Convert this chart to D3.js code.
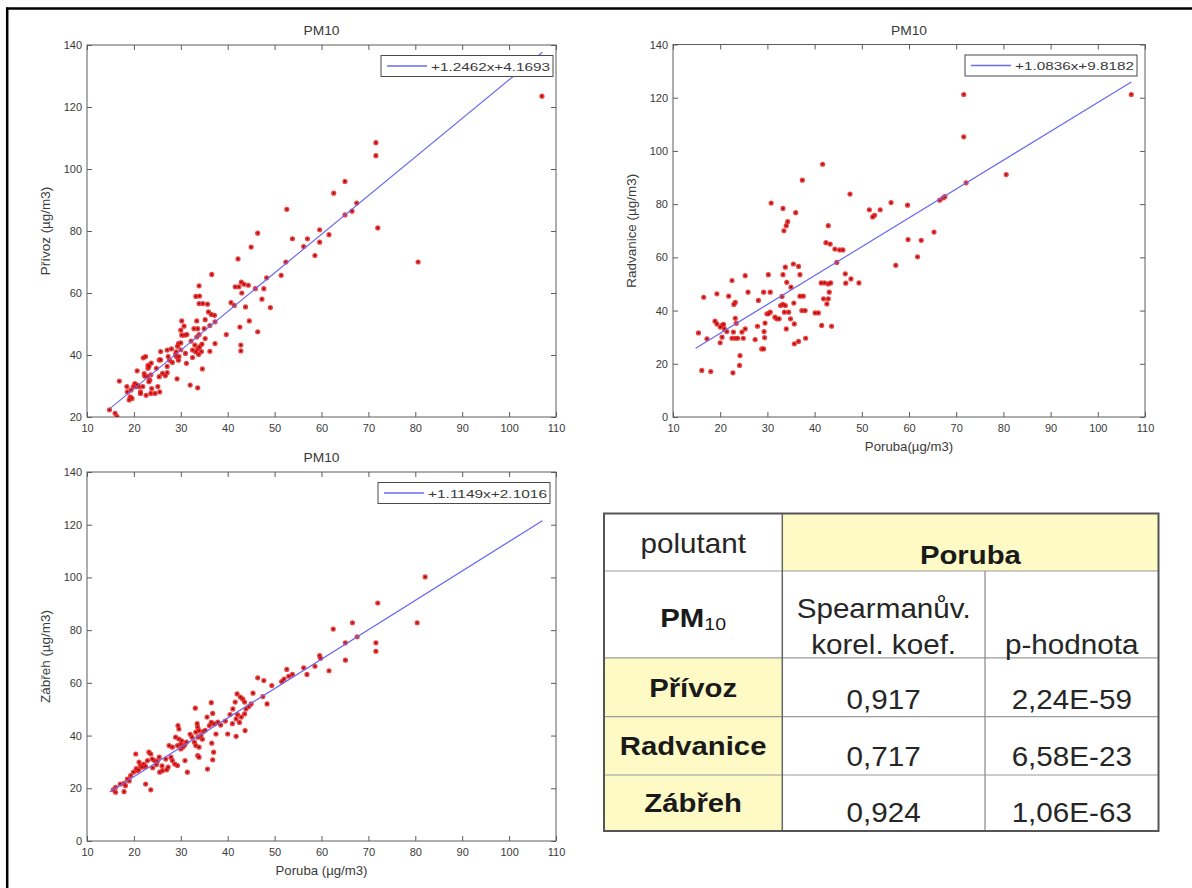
<!DOCTYPE html>
<html>
<head>
<meta charset="utf-8">
<script src="https://cdn.jsdelivr.net/npm/d3@7"></script>
<style>
  body { margin: 0; background: #fff; }
  svg { display: block; font-family: "Liberation Sans", Arial, sans-serif; }
</style>
</head>
<body>
<svg id="chart" width="1192" height="888"></svg>
<script>
// ---- data -------------------------------------------------------------
const xTicks = [10, 20, 30, 40, 50, 60, 70, 80, 90, 100, 110];
const privozYTicks = [20, 40, 60, 80, 100, 120, 140];
const fullYTicks = [0, 20, 40, 60, 80, 100, 120, 140];

// daily PM10 pairs: [Poruba, station] in µg/m3
const privozPts = [
  [107,123.5],[71.6,108.5],[71.6,104.3],[72,81],[80.6,70],[65,96],[62.6,92.2],[65,85.2],[66.5,86.4],[67.5,89],
  [52.6,87],[59.6,80.4],[59.6,76.4],[61.6,78.8],[58.6,72.1],[57,77.5],[56.2,75],[53.8,77.5],[52.4,70],[51.4,65.7],
  [48.3,64.9],[47.7,61.4],[49.1,55.3],[47.3,58],[46.4,47.5],[46.4,79.3],[45,74.8],[42.2,71],[44.4,62.5],[44.6,51],
  [43.8,55.5],[42.8,43.2],[42.8,41.3],[42.6,49],[42.4,62],[41.6,62],[43,60],[41.4,56],[40.7,56.9],[39.7,46.6],
  [45.9,61.4],[36.6,66],[36.5,53.1],[35.9,53.9],[35.2,51.4],[37.3,50.7],[37.2,52.8],[36.2,41.2],[37.3,43.7],[35.2,45.3],
  [34.6,35.5],[33.6,29.4],[32,30.3],[33.9,62.3],[33.2,58.9],[33.9,56.6],[34.7,56.6],[35.7,56.4],[33.4,51],[33.6,48.5],
  [32.8,48.5],[33.4,45.8],[33,43.2],[33.6,42],[32.5,41.6],[34,42.6],[32.5,39.2],[31.2,37.3],[30.2,51],[30,48],
  [30.8,46.4],[30.2,46.4],[29.5,43.7],[29,41],[29.1,39.4],[29.5,38.3],[29.2,32.3],[28,42],[27.1,41.6],[27.6,38.3],
  [27.1,34.3],[26.7,33.3],[25.4,38.4],[24.8,35.7],[24.5,27.6],[23.8,29.2],[23.4,31.9],[23,35.7],[23,36.7],[22,39.1],
  [22.2,34],[22.3,33.2],[22.6,27],[21.4,28.1],[20.7,34.9],[20.3,30.3],[19.9,29.8],[19.4,28.7],[19.2,26.5],[19.6,26],
  [19,25.5],[18.5,29.8],[16.9,31.6],[18.6,28.1],[14.8,22.3],[16,21.2],[16.4,20.1],
  [34,59],[33.9,46.6],[34.4,41.1],[30.7,49.3],[31.3,46.6],[30,43.9],[29.3,42.8],[30,41.7],[29.6,39.5],[28.9,40.1],
  [28.2,37.6],[27.3,39.5],[27.1,36.3],[25.7,38.4],[25.7,41.1],[25.4,33],[26.1,34.1],[23.7,37.4],[23.2,36.3],[23.6,33.6],
  [22.5,39.5],[23.2,31.4],[22.9,33],[21.9,29.8],[21.1,29.8],[21.4,27.6],[20.2,30.8],[20.4,29.8],[20.7,30.3],[23.6,27.6],
  [25.5,28.1],[25.1,29.8],[42.9,63.5],[43.5,62.8],[33.2,41],[34.5,43.5],[33.8,40.2],[32.2,44.5],[35,48.5],[36.2,49.5],
  [31,40.5]
];

const radvanicePts = [
  [41.7,95],[37.4,89],[47.5,83.8],[30.8,80.4],[33.3,78.4],[36,76.8],[34.3,73.4],[34,71.9],[33.5,70],[42.9,71.9],
  [42.4,65.5],[43.3,65],[44.3,63.1],[45.3,62.8],[46,62.8],[44.7,58.1],[33.8,56.3],[35.5,57.5],[36.6,56.6],[36.9,53.5],
  [33.3,53.5],[34.1,50.6],[35,48.8],[36.9,45.4],[37.6,45.4],[33.1,45.3],[30.6,46.9],[30.2,53.5],[29.2,46.9],[28.1,43.8],
  [25.3,53.1],[25.9,46.9],[22.5,51.3],[21.8,45.4],[23.2,43.1],[22.9,42.3],[19.3,46.3],[16.5,45],[15.4,31.6],[18.9,36],
  [19.3,35],[20.4,34.4],[20.9,33.1],[21.4,32.1],[20.7,34.8],[20,33.8],[20.4,30],[20,27.9],[17.2,29.4],[23.2,37.1],
  [23.4,35.2],[22.8,31.9],[22.5,29.6],[23.2,29.6],[23.7,29.6],[24.6,31.9],[25.3,33.1],[24.9,29.6],[24.2,23.1],[24.1,19.4],
  [22.7,16.6],[18,17.1],[16.1,17.5],[27.4,29.1],[27.9,34.1],[28.8,25.6],[29.2,25.6],[29.4,29.8],[29.3,32.1],[29.5,35.3],
  [29.9,38.8],[30.6,39.4],[31.6,37.5],[32,36.9],[32.5,36.9],[30.2,38.8],[32.8,41.9],[33.3,42.3],[33.8,41.9],[33.6,39.4],
  [34,33.1],[34.5,39.4],[34.9,36.9],[35.6,42.8],[35.7,35],[35.7,27.5],[36.6,28.4],[38.1,29.6],[37.3,40],[38,40],
  [40.1,39.1],[40.8,39.1],[41.5,34.4],[43.6,34.1],[42.6,42.5],[42.9,44.4],[43.1,46.9],[42.9,50],[43.4,50.4],[41.9,44.4],
  [41.4,50.4],[42.1,50.4],[46.5,53.8],[46.6,50.3],[47.7,51.9],[49.4,50.4],
  [107.1,121.2],[71.6,121.2],[71.6,105.3],[72.1,88],[80.6,91.1],[66.5,81.5],[67.2,82.3],[67.6,82.8],[65.3,69.5],[62.6,66.4],
  [59.8,66.7],[61.8,60.2],[59.7,79.6],[57.2,57],[56.2,80.6],[51.6,77.9],[52.7,75.8],[52.3,75.2],[53.9,77.9]
];

const zabrehPts = [
  [46.4,61.9],[47.7,60.9],[49.4,59],[47.5,54.8],[48.4,52],[45.4,56.1],[43.2,53.9],[43.6,52.7],[42.7,54.6],[42,55.8],
  [41.6,52.7],[41.1,50.1],[43.9,50.1],[42.1,48],[42.9,47],[43.6,48.2],[41.8,46.3],[40,40.6],[41.8,39.7],[43.7,41.9],
  [37.9,45.1],[37.1,44.4],[36.1,43.8],[37.5,40.6],[36.6,37.1],[37,33.7],[36.8,30.8],[35.7,27.3],[35.6,47],[33.1,50.4],
  [33.6,43.2],[33.9,41.9],[33.2,41.3],[34.3,40],[33.7,39.4],[32.4,39.4],[32.9,37.5],[33.2,36.2],[33.9,35.6],[33.6,32.4],
  [33.9,31.8],[31.4,26.1],[30.9,30.5],[29.4,43.8],[29.6,42.5],[30,36.8],[29.3,36.2],[30,34.9],[30.4,35.6],[29.6,38.7],
  [28.9,39.4],[28.2,35.6],[27.5,36.2],[27.9,31.8],[28.2,30.5],[28.7,29.2],[29.3,28.6],[27.3,28],[26.8,31.1],[25.4,31.8],
  [25.5,26.1],[26.1,26.7],[24.4,30.5],[23.9,31.1],[23.2,33.7],[23.6,33],[22.9,30.5],[22.1,29.2],[21.4,28.6],[21.1,29.9],
  [20.4,33],[20.7,26.7],[19.9,26.1],[19.3,24.8],[18.6,23.5],[17.9,21.9],[17.1,21.6],[16.1,20.4],[15.6,19.4],[16.1,18.5],
  [17.9,18.7],[22.5,21.6],[23.6,19.4],[36.5,52.5],
  [21.8,28],[22.5,28.3],[24,27.8],[24.8,29],[25,30.2],[20.5,27.5],[21,27],[30.8,36.3],[31.2,37.5],[30.2,38],
  [34.6,38.6],[34.8,41.5],[35.2,42],[32,40.5],[38.5,44],[39.5,45.5],[36.5,45],[40.5,48],[41,44.5],[42.5,45],
  [44.5,51],[45,52],[26,28.5],[27,27],[19,22.8],[18.2,21],[33.5,44.5],[36.8,48.4],
  [82.1,100.2],[72,90.3],[80.4,82.8],[71.6,75.2],[71.6,72],[66.6,82.8],[62.5,80.4],[67.6,77.5],[65.1,75.2],[65.1,68.6],
  [61.6,64.6],[59.6,70.3],[59.8,69.3],[58.6,66.3],[56.9,63.2],[56.2,65.7],[53.8,63.2],[52.6,65.1],[52,61.4],[51.5,60.5],
  [53,62.5]
];

// least-squares fits (station = slope * Poruba + intercept)
const fitSlopes = [1.2462, 1.0836, 1.1149];
const fitIntercepts = [4.1693, 9.8182, 2.1016];

// Spearman correlation table
const stations = ["Přívoz", "Radvanice", "Zábřeh"];
const spearmanRho = ["0,917", "0,717", "0,924"];
const pValues = ["2,24E-59", "6,58E-23", "1,06E-63"];

// ---- drawing ----------------------------------------------------------
const svg = d3.select("#chart");
const FONT = "'Liberation Sans', Arial, sans-serif";

// text helper: anchored at (x, y), optionally widened horizontally
function stext(parent, x, y, s, o) {
  const rot = o.rotate ? ` rotate(${o.rotate})` : "";
  return parent.append("text")
    .attr("transform", `translate(${x},${y})${rot} scale(${o.sx || 1},1)`)
    .attr("text-anchor", o.anchor || "middle")
    .attr("font-family", FONT)
    .attr("font-size", o.size)
    .attr("font-weight", o.bold ? "bold" : "normal")
    .attr("fill", o.fill || "#222")
    .text(s);
}

// slide frame
svg.append("line").attr("x1", 6).attr("x2", 1192).attr("y1", 8.5).attr("y2", 8.5)
  .attr("stroke", "#000").attr("stroke-width", 2.5);
svg.append("line").attr("x1", 7.2).attr("x2", 7.2).attr("y1", 7.5).attr("y2", 888)
  .attr("stroke", "#000").attr("stroke-width", 2.5);

const defs = svg.append("defs");
const AXIS = "#5c5c5c";
const LABEL = "#3a3a3a";

// every station shares the same Poruba days, so fits span the same range
const porubaRange = d3.extent([...privozPts, ...radvanicePts, ...zabrehPts], d => d[0]);

function panel(cfg, idx) {
  const g = svg.append("g");
  const x = d3.scaleLinear().domain([10, 110]).range([cfg.l, cfg.r]);
  const y = d3.scaleLinear().domain(cfg.yDomain).range([cfg.b, cfg.t]);

  const clipId = "clip" + idx;
  defs.append("clipPath").attr("id", clipId).append("rect")
    .attr("x", cfg.l).attr("y", cfg.t).attr("width", cfg.r - cfg.l).attr("height", cfg.b - cfg.t);

  const styleAxis = sel => {
    sel.select(".domain").remove();
    sel.selectAll(".tick line").attr("stroke", AXIS);
    sel.selectAll(".tick text").attr("fill", LABEL)
      .attr("font-size", 11).attr("font-family", FONT);
  };

  g.append("g").attr("transform", `translate(0,${cfg.b})`)
    .call(d3.axisBottom(x).tickValues(xTicks).tickSize(-5).tickPadding(7).tickFormat(d3.format("d")))
    .call(styleAxis);
  g.append("g").attr("transform", `translate(0,${cfg.t})`)
    .call(d3.axisTop(x).tickValues(xTicks).tickSize(-5).tickFormat(""))
    .call(styleAxis);
  g.append("g").attr("transform", `translate(${cfg.l},0)`)
    .call(d3.axisLeft(y).tickValues(cfg.yTicks).tickSize(-5).tickPadding(5).tickFormat(d3.format("d")))
    .call(styleAxis);
  g.append("g").attr("transform", `translate(${cfg.r},0)`)
    .call(d3.axisRight(y).tickValues(cfg.yTicks).tickSize(-5).tickFormat(""))
    .call(styleAxis);

  g.append("rect").attr("x", cfg.l).attr("y", cfg.t)
    .attr("width", cfg.r - cfg.l).attr("height", cfg.b - cfg.t)
    .attr("fill", "none").attr("stroke", AXIS).attr("stroke-width", 1);

  const plot = g.append("g").attr("clip-path", `url(#${clipId})`);

  // scatter
  const dots = plot.append("g").selectAll("g").data(cfg.pts).join("g")
    .attr("transform", d => `translate(${x(d[0])},${y(d[1])})`);
  dots.append("circle").attr("r", 2.6).attr("fill", "#ee2222").attr("fill-opacity", 0.85);
  dots.append("circle").attr("r", 1.1).attr("fill", "#8a0c0c");

  // regression line
  const slope = fitSlopes[idx], icpt = fitIntercepts[idx];
  plot.append("line")
    .attr("x1", x(porubaRange[0])).attr("y1", y(slope * porubaRange[0] + icpt))
    .attr("x2", x(porubaRange[1])).attr("y2", y(slope * porubaRange[1] + icpt))
    .attr("stroke", "#6a6af0").attr("stroke-width", 1.2);

  // legend
  const lw = 172, lh = 21;
  const lx = cfg.legendRight - lw, ly = cfg.t + 10.5;
  g.append("rect").attr("x", lx).attr("y", ly).attr("width", lw).attr("height", lh)
    .attr("fill", "#fff").attr("stroke", "#4a4a4a").attr("stroke-width", 1);
  g.append("line").attr("x1", lx + 6).attr("x2", lx + 46).attr("y1", ly + lh / 2).attr("y2", ly + lh / 2)
    .attr("stroke", "#6a6af0").attr("stroke-width", 1.3);
  g.append("text").attr("x", lx + 50).attr("y", ly + 15)
    .attr("font-family", FONT).attr("font-size", 11.5).attr("fill", LABEL)
    .attr("textLength", 119).attr("lengthAdjust", "spacingAndGlyphs")
    .text("+" + slope.toFixed(4) + "x+" + icpt.toFixed(4));

  // title and axis labels
  stext(g, (cfg.l + cfg.r) / 2, cfg.t - 10, "PM10", { size: 12, sx: 1.15, fill: LABEL });
  stext(g, cfg.l - 37, (cfg.t + cfg.b) / 2, cfg.yLabel, { size: 12, sx: 1.12, rotate: -90, fill: LABEL });
  if (cfg.xLabel) {
    stext(g, (cfg.l + cfg.r) / 2, cfg.b + 34, cfg.xLabel, { size: 12, sx: 1.1, fill: LABEL });
  }
}

panel({ l: 87, r: 556, t: 45, b: 417, yDomain: [20, 140], yTicks: privozYTicks, legendRight: 553,
        pts: privozPts, yLabel: "Přívoz (µg/m3)", xLabel: null }, 0);
panel({ l: 673, r: 1145, t: 44.5, b: 417, yDomain: [0, 140], yTicks: fullYTicks, legendRight: 1137,
        pts: radvanicePts, yLabel: "Radvanice (µg/m3)", xLabel: "Poruba(µg/m3)" }, 1);
panel({ l: 87, r: 556, t: 472, b: 841, yDomain: [0, 140], yTicks: fullYTicks, legendRight: 550,
        pts: zabrehPts, yLabel: "Zábřeh (µg/m3)", xLabel: "Poruba (µg/m3)" }, 2);

// ---- correlation table ------------------------------------------------
const T = { l: 604, r: 1158.5, c1: 782.3, c2: 985, rows: [513.5, 571, 657.8, 716.7, 775, 831] };
const tg = svg.append("g");
const YELLOW = "#fdfac6";

tg.append("rect").attr("x", T.c1).attr("y", T.rows[0]).attr("width", T.r - T.c1)
  .attr("height", T.rows[1] - T.rows[0]).attr("fill", YELLOW);
tg.append("rect").attr("x", T.l).attr("y", T.rows[2]).attr("width", T.c1 - T.l)
  .attr("height", T.rows[5] - T.rows[2]).attr("fill", YELLOW);

[1, 2, 3, 4].forEach(i => {
  tg.append("line").attr("x1", T.l).attr("x2", T.r).attr("y1", T.rows[i]).attr("y2", T.rows[i])
    .attr("stroke", "#9a9a9a").attr("stroke-width", 1.2);
});
tg.append("line").attr("x1", T.c1).attr("x2", T.c1).attr("y1", T.rows[0]).attr("y2", T.rows[5])
  .attr("stroke", "#666").attr("stroke-width", 1.5);
tg.append("line").attr("x1", T.c2).attr("x2", T.c2).attr("y1", T.rows[1]).attr("y2", T.rows[5])
  .attr("stroke", "#888").attr("stroke-width", 1.2);
tg.append("rect").attr("x", T.l).attr("y", T.rows[0]).attr("width", T.r - T.l)
  .attr("height", T.rows[5] - T.rows[0]).attr("fill", "none").attr("stroke", "#555").attr("stroke-width", 2);

const colName = (T.l + T.c1) / 2, colRho = (T.c1 + T.c2) / 2, colP = (T.c2 + T.r) / 2;
const REG = { size: 28.5, sx: 1.04, fill: "#262626" };
const BOLD = { size: 25.5, sx: 1.15, bold: true, fill: "#1a1a1a" };

stext(tg, colName, 553, "polutant", REG);
stext(tg, (T.c1 + T.r) / 2, 564, "Poruba", BOLD);

const pm = stext(tg, colName, 627, "", BOLD);
pm.append("tspan").text("PM");
pm.append("tspan").attr("font-size", 17).attr("font-weight", "normal").attr("dy", 3).text("10");

stext(tg, colRho, 618, "Spearmanův.", REG);
stext(tg, colRho, 654, "korel. koef.", REG);
stext(tg, colP, 654, "p-hodnota", REG);

const nameY = [697, 755, 812];
const valY = [708.5, 765.5, 822];
stations.forEach((s, i) => {
  stext(tg, colName, nameY[i], s, BOLD);
  stext(tg, colRho, valY[i], spearmanRho[i], REG);
  stext(tg, colP, valY[i], pValues[i], REG);
});
</script>
</body>
</html>
